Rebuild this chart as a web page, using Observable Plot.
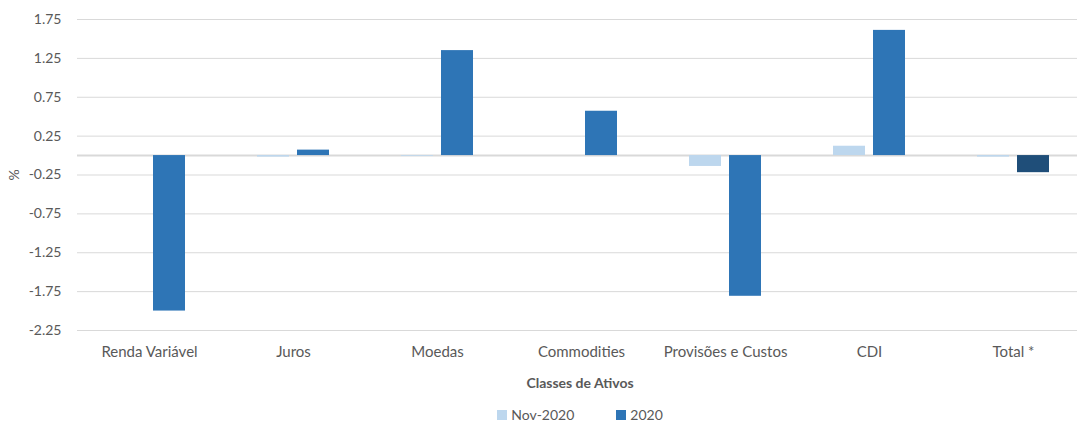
<!DOCTYPE html>
<html>
<head>
<meta charset="utf-8">
<script src="https://cdn.jsdelivr.net/npm/d3@7"></script>
<script src="https://cdn.jsdelivr.net/npm/@observablehq/plot@0.6"></script>
<style>
  html, body { margin: 0; padding: 0; background: #fff; }
  body { width: 1077px; height: 423px; overflow: hidden; font-family: Lato, "Open Sans", sans-serif; color: #595959; }
  #xtitle { position: absolute; top: 374px; left: 0; width: 1160px; text-align: center; font-weight: bold; font-size: 14px; color: #595959; }
  #legend { position: absolute; top: 406px; left: 0; width: 1160px; display: flex; justify-content: center; gap: 42px; font-size: 14px; color: #595959; }
  #legend span.item { display: inline-flex; align-items: center; gap: 4px; }
  #legend span.sw { display: inline-block; width: 10px; height: 10px; }
</style>
</head>
<body>
<div id="chart"></div>
<div id="xtitle">Classes de Ativos</div>
<div id="legend"></div>
<script>
const categories = ["Renda Variável", "Juros", "Moedas", "Commodities", "Provisões e Custos", "CDI", "Total *"];
const seriesNames = ["Nov-2020", "2020"];
const novValues = [0.00, -0.02, -0.01, 0.00, -0.14, 0.12, -0.02];
const yearValues = [-2.00, 0.07, 1.35, 0.57, -1.81, 1.61, -0.22];
const yTicks = [-2.25, -1.75, -1.25, -0.75, -0.25, 0.25, 0.75, 1.25, 1.75];
const seriesColors = ["#bdd7ee", "#2e75b6"];
const totalColor = "#1f4e79";

const rows = [];
categories.forEach((c, i) => {
  rows.push({cat: c, series: seriesNames[0], value: novValues[i]});
  rows.push({cat: c, series: seriesNames[1], value: yearValues[i]});
});
const colorOf = d => (d.cat === "Total *" && d.series === "2020") ? totalColor : seriesColors[seriesNames.indexOf(d.series)];

const chart = Plot.plot({
  width: 1077,
  height: 365,
  marginTop: 19,
  marginBottom: 35,
  marginLeft: 77,
  marginRight: 0,
  style: {fontFamily: "Lato, 'Open Sans', sans-serif", fontSize: "14px", color: "#595959", background: "#fff"},
  fx: {domain: categories, padding: 0, range: [77, 1085], label: null, axis: null},
  x: {domain: seriesNames, paddingInner: 0.2, paddingOuter: 0.9, axis: null},
  y: {domain: [-2.25, 1.75], ticks: yTicks, tickFormat: d => d.toFixed(2), label: "%", labelAnchor: "center", labelArrow: "none"},
  color: {type: "identity"},
  marks: [
    Plot.ruleY(yTicks, {stroke: "#d9d9d9", strokeWidth: 1}),
    Plot.ruleY([0], {stroke: "#d9d9d9", strokeWidth: 2}),
    Plot.barY(rows, {fx: "cat", x: "series", y: "value", fill: colorOf}),
    Plot.axisY({ticks: yTicks, tickFormat: d => d.toFixed(2), tickSize: 0, tickPadding: 16, label: "%", labelAnchor: "center", labelArrow: "none", labelOffset: 68, fontSize: 14, color: "#595959"}),
    Plot.axisFx({anchor: "bottom", tickSize: 0, tickPadding: 16, label: null, fontSize: 15, color: "#595959"})
  ]
});
document.getElementById("chart").appendChild(chart);

const legend = document.getElementById("legend");
seriesNames.forEach((s, i) => {
  const item = document.createElement("span");
  item.className = "item";
  const sw = document.createElement("span");
  sw.className = "sw";
  sw.style.background = seriesColors[i];
  item.appendChild(sw);
  item.appendChild(document.createTextNode(s));
  legend.appendChild(item);
});
</script>
</body>
</html>
